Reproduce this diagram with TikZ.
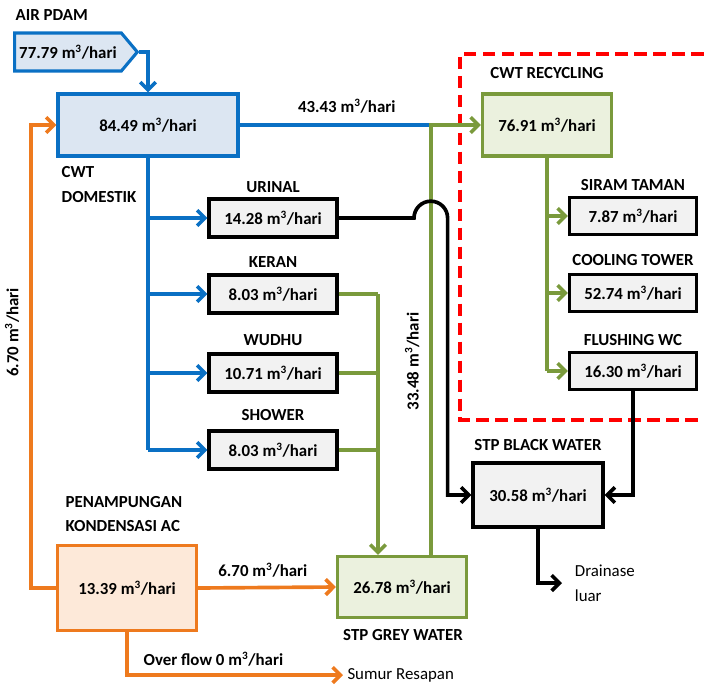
\documentclass[tikz,border=0pt]{standalone}
\usepackage{fontspec}
\setmainfont{Carlito}
\usepackage{tikz}
\usetikzlibrary{arrows.meta,shapes.symbols}
\newcommand{\waterfont}{\fontsize{12}{17.5}\selectfont}
\newcommand{\mhari}{m\textsuperscript{3}/hari}
\definecolor{pipeblue}{HTML}{0A70C4}
\definecolor{tankblue}{HTML}{DCE6F2}
\definecolor{pipegreen}{HTML}{7A9A3C}
\definecolor{tankgreen}{HTML}{EBF1DE}
\definecolor{pipeorange}{HTML}{EE7A1E}
\definecolor{tankorange}{HTML}{FDE9D9}
\definecolor{usegrey}{HTML}{F2F2F2}
\tikzset{
    water/chart/.style={font=\waterfont, every node/.style={align=center}, x=0.025cm, y=-0.025cm},
    water/tank/.style={rectangle, line width=2.2pt, font=\bfseries\waterfont, inner sep=2pt},
    water/domestic/.style={water/tank, draw=pipeblue, fill=tankblue},
    water/recycle/.style={water/tank, draw=pipegreen, fill=tankgreen},
    water/condense/.style={water/tank, draw=pipeorange, fill=tankorange},
    water/use/.style={water/tank, draw=black, fill=usegrey, minimum width=3.2cm, minimum height=0.95cm},
    water/reuse/.style={water/use, minimum width=3.175cm, minimum height=0.925cm},
    water/source/.style={signal, signal to=east, signal pointer angle=100, draw=pipeblue, fill=tankblue, line width=2.2pt, font=\bfseries\waterfont, minimum width=2.925cm, minimum height=0.95cm},
    water/title/.style={font=\bfseries\waterfont, text=black, inner sep=1pt},
    water/outlet/.style={font=\waterfont, text=black, inner sep=1pt},
    water/pipe/.style={line width=2.6pt},
    water/arrow/.style={water/pipe, -{Straight Barb[length=5.5pt,width=11pt,line width=2.6pt]}},
    water/boundary/.style={draw=red, line width=2.9pt, dash pattern=on 9pt off 4.5pt}
}
\begin{document}
\begin{tikzpicture}[water/chart]
    \useasboundingbox (0,0) rectangle (704,686);
    % tanks
    \node[water/source, anchor=west] (pdam) at (13,52) {77.79 \mhari};
    \node[water/title, anchor=west] (pdamlabel) at (14,15) {AIR PDAM};
    \node[water/domestic, minimum width=4.5cm, minimum height=1.55cm] (cwtdom) at (148,125) {84.49 \mhari};
    \node[water/title, anchor=north west, align=left] (cwtdomlabel) at (60,165) {CWT\\DOMESTIK};
    \node[water/recycle, minimum width=3.225cm, minimum height=1.55cm] (cwtrec) at (547,125) {76.91 \mhari};
    \node[water/title] (cwtreclabel) at (547,73) {CWT RECYCLING};
    \node[water/condense, minimum width=3.475cm, minimum height=2.125cm] (kondensasi) at (127,588) {13.39 \mhari};
    \node[water/title, anchor=west, align=left] (kondensasilabel) at (64,514) {PENAMPUNGAN\\KONDENSASI AC};
    \node[water/recycle, minimum width=3.225cm, minimum height=1.525cm] (stpgrey) at (402,587) {26.78 \mhari};
    \node[water/title] (stpgreylabel) at (403,635) {STP GREY WATER};
    \node[water/use, minimum width=3.25cm, minimum height=1.6cm] (stpblack) at (538,495) {30.58 \mhari};
    \node[water/title] (stpblacklabel) at (538,445) {STP BLACK WATER};
    % domestic uses
    \node[water/use] (urinal) at (273,218) {14.28 \mhari};
    \node[water/title] (urinallabel) at (273,187) {URINAL};
    \node[water/use] (keran) at (273,294) {8.03 \mhari};
    \node[water/title] (keranlabel) at (273,262) {KERAN};
    \node[water/use] (wudhu) at (273,373) {10.71 \mhari};
    \node[water/title] (wudhulabel) at (273,340) {WUDHU};
    \node[water/use] (shower) at (273,450) {8.03 \mhari};
    \node[water/title] (showerlabel) at (273,415) {SHOWER};
    % recycled uses
    \node[water/reuse] (siram) at (633,216) {7.87 \mhari};
    \node[water/title] (siramlabel) at (633,185) {SIRAM TAMAN};
    \node[water/reuse] (cooling) at (633,293) {52.74 \mhari};
    \node[water/title] (coolinglabel) at (633,260) {COOLING TOWER};
    \node[water/reuse] (flushing) at (633,371) {16.30 \mhari};
    \node[water/title] (flushinglabel) at (633,340) {FLUSHING WC};
    % outlets
    \node[water/outlet, anchor=west, align=left, inner xsep=9pt] (drainase) at (562,583) {Drainase\\luar};
    \node[water/outlet, anchor=west, inner xsep=3pt] (sumur) at (343,675) {Sumur Resapan};
    \coordinate (merge) at (431,125);
    \coordinate (greyin) at (378,294);
    \coordinate (hop) at (414,218);
    % recycling area
    \draw[water/boundary] (704,54) -| (460,420) -- (704,420);
    % blue lines
    \draw[water/arrow, pipeblue] (pdam.east) -| (cwtdom.north);
    \draw[water/pipe, pipeblue] (cwtdom.south) -- (cwtdom.south |- shower.west);
    \foreach \use in {urinal,keran,wudhu,shower}
        \draw[water/arrow, pipeblue] (cwtdom.south |- \use.west) -- (\use.west);
    \draw[water/pipe, pipeblue] (cwtdom.east) -- node[water/title, pos=0.56, above=6pt] {43.43 \mhari} (merge);
    % green lines
    \foreach \use in {keran,wudhu,shower}
        \draw[water/pipe, pipegreen] (\use.east) -- (\use.east -| greyin);
    \draw[water/arrow, pipegreen] (greyin) -- (stpgrey.north -| greyin);
    \draw[water/arrow, pipegreen] (stpgrey.north -| merge) -- node[water/title, rotate=90, pos=0.45, above=6pt] {33.48 \mhari} (merge) -- (cwtrec.west);
    \draw[water/pipe, pipegreen] (cwtrec.south) -- (cwtrec.south |- flushing.west);
    \foreach \use in {siram,cooling,flushing}
        \draw[water/arrow, pipegreen] (cwtrec.south |- \use.west) -- (\use.west);
    % black lines
    \draw[water/arrow] (urinal.east) -- (hop) arc[start angle=180, end angle=0, radius=0.42cm] |- (stpblack.west);
    \draw[water/arrow] (flushing.south) |- (stpblack.east);
    \draw[water/arrow] (stpblack.south) |- (drainase.west);
    % orange lines
    \draw[water/arrow, pipeorange] (kondensasi.west) -- ++(-25,0) |- node[water/title, rotate=90, pos=0.276, above=6pt] {6.70 \mhari} (cwtdom.west);
    \draw[water/arrow, pipeorange] (kondensasi.east) -- node[water/title, pos=0.47, above=5pt] {6.70 \mhari} (stpgrey.west);
    \draw[water/arrow, pipeorange] (kondensasi.south) |- node[water/title, pos=0.7, above=4pt] {Over flow 0 \mhari} (sumur.west);
\end{tikzpicture}
\end{document}
